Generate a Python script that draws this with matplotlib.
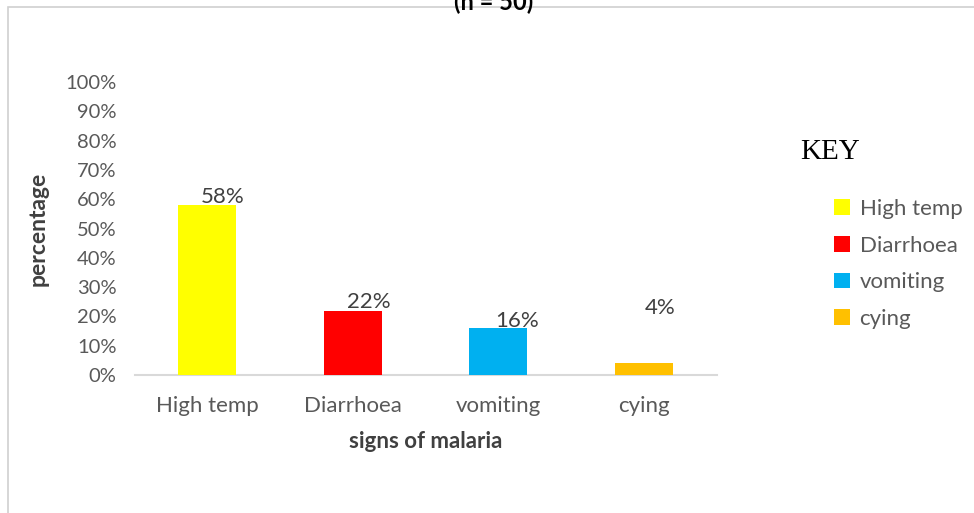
import matplotlib.pyplot as plt
from matplotlib.patches import Rectangle

signs = ['High temp', 'Diarrhoea', 'vomiting', 'cying']
share = [0.58, 0.22, 0.16, 0.04]
bar_labels = ['58%', '22%', '16%', '4%']
colours = ['#FFFF00', '#FF0000', '#00B0F0', '#FFC000']
yticks = [0, 0.1, 0.2, 0.3, 0.4, 0.5, 0.6, 0.7, 0.8, 0.9, 1.0]

plt.rcParams['font.family'] = ['Lato', 'DejaVu Sans']

W, H = 974, 513
fig = plt.figure(figsize=(W / 100, H / 100), dpi=100)

# light grey frame of the pasted chart
fig.patches.append(Rectangle((8 / W, -0.1), 1.1, 1 - 7 / H + 0.1, transform=fig.transFigure,
                             fill=False, edgecolor='#d0d0d0', linewidth=1.2))
# title cut off at the top of the picture
fig.text(494 / W, 1 - 14 / H, '(n = 50)', ha='center', va='bottom', fontsize=17,
         fontweight='bold', color='black')

left, right = 134.5, 716.5
y0, y1 = 375, 82
ax = fig.add_axes([left / W, 1 - y0 / H, (right - left) / W, (y0 - y1) / H])
x = range(len(signs))
bars = ax.bar(x, share, width=0.4, color=colours, label=signs, zorder=3)

# data labels, placed like in the original (4% floats high)
offsets = [(15, 8), (16, 9), (19, 7), (16, 55)]
for i, (lab, off) in enumerate(zip(bar_labels, offsets)):
    ax.annotate(lab, (i, share[i]), xytext=off, textcoords='offset pixels',
                ha='center', va='center', fontsize=16, color='#404040')

ax.set_xlim(-0.5, 3.5)
ax.set_ylim(0, 1.0)
ax.set_yticks(yticks)
ax.set_yticklabels([f'{int(round(t * 100))}%' for t in yticks])
ax.set_xticks(list(x))
ax.set_xticklabels(signs)
ax.tick_params(axis='y', length=0, pad=13, labelsize=14.5, labelcolor='#595959')
ax.tick_params(axis='x', length=0, pad=15, labelsize=16, labelcolor='#595959')
for s in ['top', 'right', 'left']:
    ax.spines[s].set_visible(False)
ax.spines['bottom'].set_color('#d9d9d9')
ax.spines['bottom'].set_linewidth(1.5)

ax.set_ylabel('percentage', fontsize=16.5, fontweight='bold', color='#404040', labelpad=12)
ax.set_xlabel('signs of malaria', fontsize=16, fontweight='bold', color='#404040', labelpad=11)

fig.text(800 / W, 1 - 152 / H, 'KEY', fontsize=21, family='Liberation Serif',
         color='black', va='center', ha='left')
leg = fig.legend(bars, signs, loc='upper left', bbox_to_anchor=(834 / W, 1 - 199 / H),
                 frameon=False, fontsize=16, handlelength=0.7, handleheight=0.7,
                 handletextpad=0.45, labelspacing=0.75, borderaxespad=0, borderpad=0)
for t in leg.get_texts():
    t.set_color('#595959')

fig.savefig('out.png', dpi=100)
